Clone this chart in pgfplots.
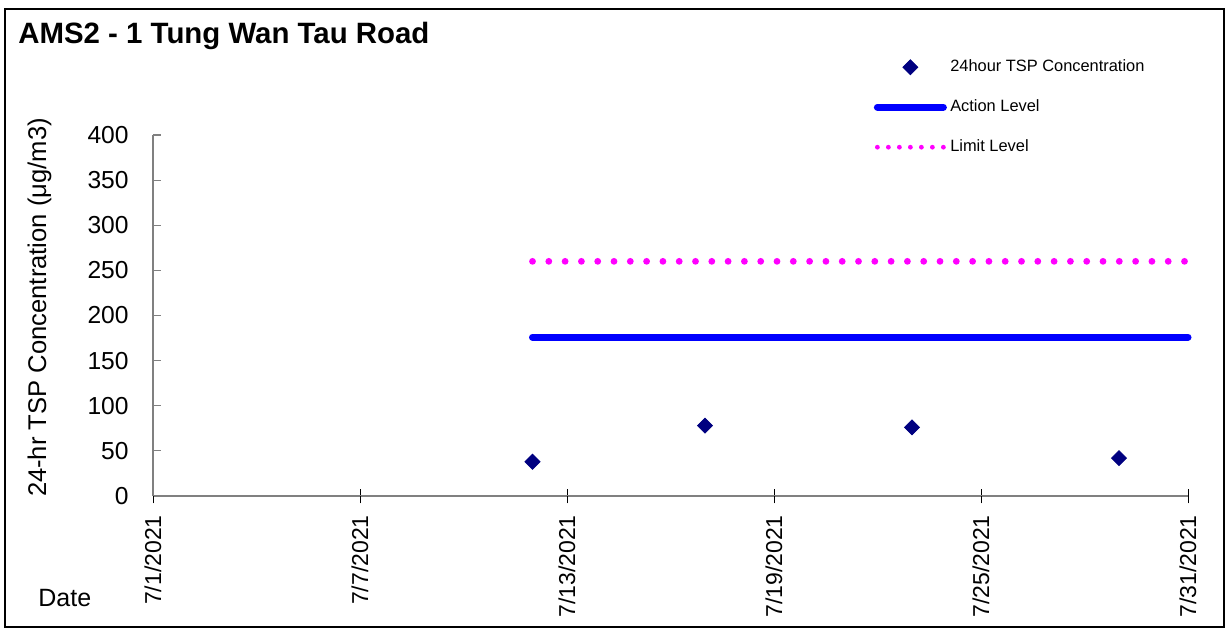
\documentclass[border=0pt]{standalone}
\usepackage{fontspec}
\setmainfont{Liberation Sans}
\usepackage{pgfplots}
\pgfplotsset{compat=1.18}
\definecolor{navyd}{RGB}{0,0,128}
\definecolor{actblue}{RGB}{0,0,255}
\definecolor{limmag}{RGB}{255,0,255}
\definecolor{axgray}{RGB}{128,128,128}
\begin{document}
\begin{tikzpicture}[x=1pt,y=1pt]
\path[use as bounding box] (0,0) rectangle (615,315.5);
\draw[line width=0.6pt] (2.5,2) rectangle (612,311);
\begin{axis}[
  at={(76.5pt,67.5pt)}, anchor=south west,
  scale only axis, width=517.5pt, height=180.5pt,
  xmin=1, xmax=31, ymin=0, ymax=400,
  axis x line*=bottom, axis y line*=left,
  axis line style={axgray, line width=0.6pt},
  xtick={1,7,13,19,25,31},
  xticklabels={7/1/2021,7/7/2021,7/13/2021,7/19/2021,7/25/2021,7/31/2021},
  ytick={0,50,...,400},
  tick align=inside, major tick length=3.75pt,
  xtick style={black, line width=0.5pt},
  ytick style={axgray, line width=0.6pt},
  /pgf/number format/assume math mode=true,
  xticklabel style={rotate=90, anchor=east, inner xsep=9.5pt, inner ysep=0pt, font=\fontsize{11.5}{13}\selectfont},
  yticklabel style={anchor=east, inner xsep=12pt, font=\fontsize{12.3}{14}\selectfont},
  clip=false,
  legend cell align=left,
  legend style={at={(axis description cs:0.6965,1.2094)}, anchor=north west, draw=none, fill=none,
    inner sep=0pt, outer sep=0pt, row sep=12.2pt, column sep=1.7pt,
    font=\fontsize{8.2}{9.5}\selectfont,
    nodes={inner sep=0pt, text height=6pt, text depth=1.8pt, anchor=west}},
]
\addplot[only marks, mark=square*, mark size=2.65pt, color=navyd, mark options={rotate=45, fill=navyd, draw=navyd},
  legend image code/.code={\path (0pt,0pt) (33pt,0pt);
    \draw[mark repeat=3,mark phase=2] plot coordinates {(0pt,0pt) (16.5pt,0pt) (33pt,0pt)};}]
  coordinates {(12,38) (17,78) (23,76) (29,42)};
\addlegendentry{24hour TSP Concentration}
\addplot[actblue, line width=3.5pt, line cap=round, mark=none,
  legend image code/.code={\draw (0pt,0pt) -- (33pt,0pt);}]
  coordinates {(12,176) (31,176)};
\addlegendentry{Action Level}
\addplot[limmag, line width=3.4pt, line cap=round, dash pattern=on 0pt off 8.15pt, mark=none,
  legend image code/.code={\draw[line width=2.4pt, dash pattern=on 0pt off 5.5pt] (0pt,0pt) -- (33pt,0pt);}]
  coordinates {(12,260) (31,260)};
\addlegendentry{Limit Level}
\end{axis}
\begin{axis}[
  at={(76.5pt,67.5pt)}, anchor=south west,
  scale only axis, width=517.5pt, height=180.5pt,
  xmin=1, xmax=31, ymin=0, ymax=400,
  axis x line*=bottom, axis y line=none,
  axis line style={draw=none},
  xtick={1,7,13,19,25,31}, xticklabels={},
  tick align=outside, major tick length=3.75pt,
  xtick style={black, line width=0.5pt},
]
\addplot[draw=none, forget plot] coordinates {(1,0) (31,0)};
\end{axis}
\node[anchor=base west, inner sep=0pt, font=\bfseries\fontsize{14.7}{17}\selectfont] at (9,293.8) {AMS2 - 1 Tung Wan Tau Road};
\node[rotate=90, anchor=base, font=\fontsize{12.8}{15}\selectfont] at (23,161.75) {24-hr TSP Concentration (μg/m3)};
\node[anchor=base west, inner sep=0pt, font=\fontsize{12.5}{15}\selectfont] at (19,12.5) {Date};
\end{tikzpicture}
\end{document}
